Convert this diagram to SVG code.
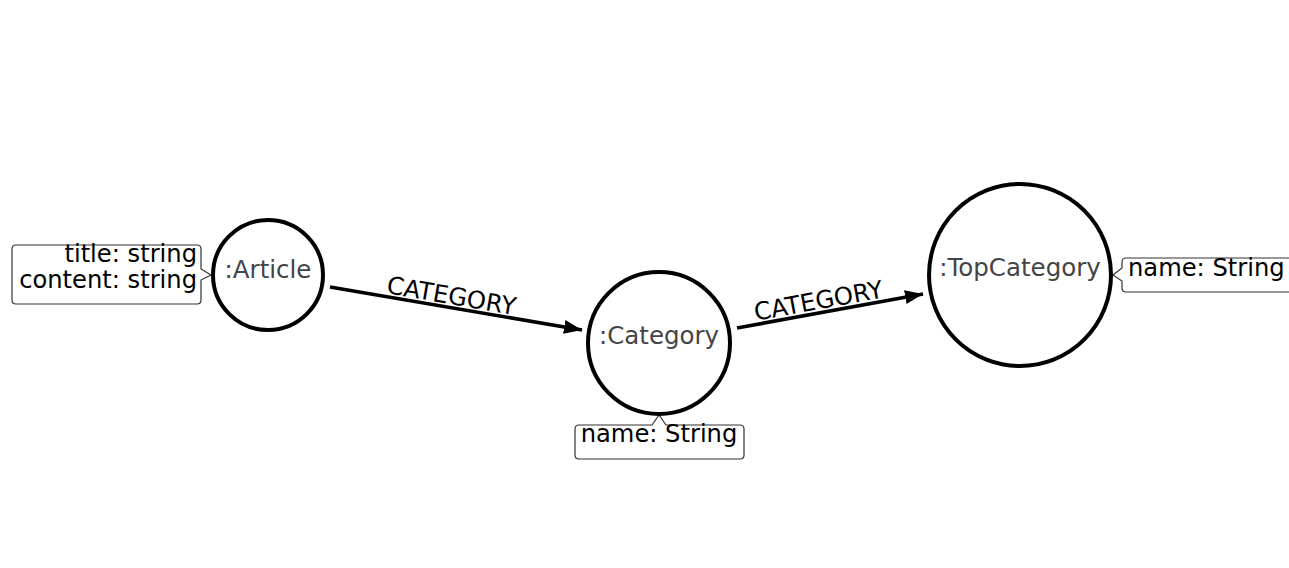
<svg xmlns="http://www.w3.org/2000/svg" width="1289" height="568" viewBox="0 0 1289 568">
<style>
.node{fill:#fff;stroke:#000;stroke-width:4}
.nlabel{font-family:"DejaVu Sans",sans-serif;font-size:24.5px;fill:#444;text-anchor:middle}
.prop{fill:#fff;stroke:#333;stroke-width:1.2}
.ptext{font-family:"DejaVu Sans",sans-serif;font-size:24.2px;fill:#000}
.edge{stroke:#000;stroke-width:3.6;fill:none}
.elabel{font-family:"DejaVu Sans",sans-serif;font-size:24.4px;fill:#000;text-anchor:middle}
</style>
<defs>
<marker id="arr" markerUnits="userSpaceOnUse" markerWidth="20" markerHeight="16" refX="18" refY="7" orient="auto">
<path d="M0,0 L18,7 L0,14 Z" fill="#000"/>
</marker>
</defs>
<rect width="1289" height="568" fill="#fff"/>
<g id="connectors">
<line class="edge" x1="330" y1="287" x2="582" y2="330" marker-end="url(#arr)"/>
<text class="elabel" transform="translate(450,304) rotate(9.7)">CATEGORY</text>
<line class="edge" x1="737" y1="328" x2="923" y2="294" marker-end="url(#arr)"/>
<text class="elabel" transform="translate(820,309) rotate(-10.4)">CATEGORY</text>
</g>
<g id="article">
<path class="prop" d="M16,245 H197 Q201,245 201,249 V269 L211,275 L201,280 V300 Q201,304 197,304 H16 Q12,304 12,300 V249 Q12,245 16,245 Z"/>
<text class="ptext" x="197" y="262" text-anchor="end">title: string</text>
<text class="ptext" x="197" y="288" text-anchor="end">content: string</text>
<circle class="node" cx="268" cy="275" r="55"/>
<text class="nlabel" x="268" y="278">:Article</text>
</g>
<g id="category">
<path class="prop" d="M579,425 H652 L659,415 L666,425 H740 Q744,425 744,429 V455 Q744,459 740,459 H579 Q575,459 575,455 V429 Q575,425 579,425 Z"/>
<text class="ptext" x="659" y="442" text-anchor="middle">name: String</text>
<circle class="node" cx="659" cy="343" r="71"/>
<text class="nlabel" x="659" y="344">:Category</text>
</g>
<g id="topcategory">
<path class="prop" d="M1126,258 H1300 V292 H1126 Q1122,292 1122,288 V281 L1113,275 L1122,268 V262 Q1122,258 1126,258 Z"/>
<text class="ptext" x="1128" y="276">name: String</text>
<circle class="node" cx="1020" cy="275" r="91"/>
<text class="nlabel" x="1020" y="276">:TopCategory</text>
</g>
</svg>
